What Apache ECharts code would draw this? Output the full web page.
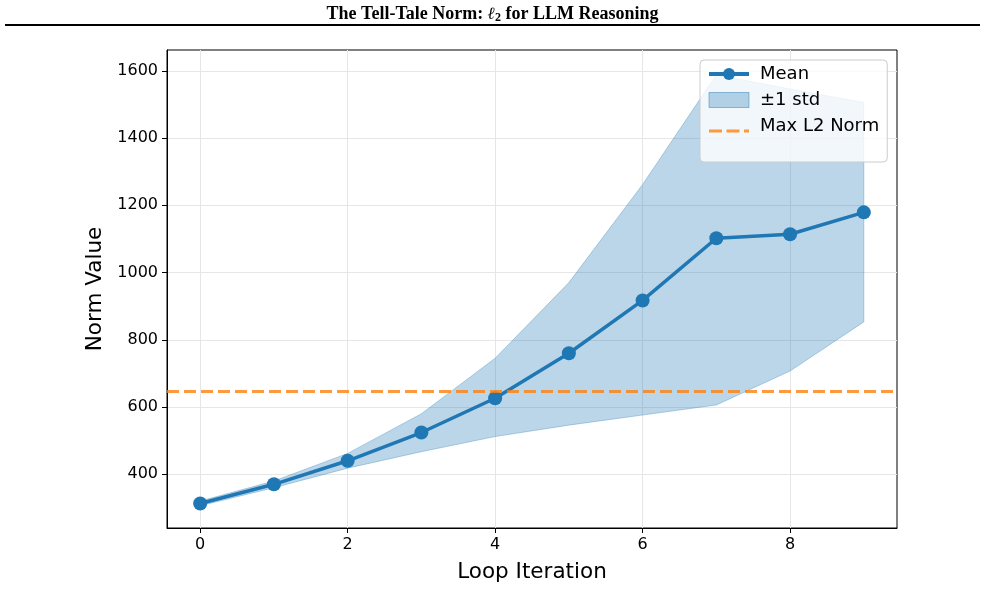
<!DOCTYPE html>
<html>
<head>
  <meta charset="utf-8">
  <title>The Tell-Tale Norm</title>
  <script src="https://cdn.jsdelivr.net/npm/echarts@6/dist/echarts.min.js"></script>
  <style>
    html, body { margin: 0; padding: 0; background: #fff; }
    #chart { width: 985px; height: 591px; }
  </style>
</head>
<body>
  <div id="chart"></div>
  <script>
    // data
    const iterations = [0, 1, 2, 3, 4, 5, 6, 7, 8, 9];
    const meanValues = [313, 370, 440, 524, 626, 760, 917, 1102, 1114, 1179];
    const upperValues = [320, 380, 462, 580, 745, 970, 1262, 1588, 1546, 1506];
    const lowerValues = [306, 360, 418, 467, 512, 546, 576, 606, 707, 853];
    const maxL2Norm = 646;
    const xTicks = [0, 2, 4, 6, 8];
    const yTicks = [400, 600, 800, 1000, 1200, 1400, 1600];
    const xRange = [-0.45, 9.45];
    const yRange = [240, 1662];

    const blue = '#1f77b4';
    const orange = 'rgba(255,127,14,0.8)';
    const gridColor = '#e6e6e6';
    const font = 'DejaVu Sans';
    // 图例里的虚线图标 (40x14, 虚线靠下)
    const dashIcon = 'path://M0,0h0.01v0.01h-0.01z M0,10.5h13v3h-13z M17.5,10.5h13v3h-13z M35,10.5h5v3h-5z M39.99,13.99h0.01v0.01h-0.01z';

    let myChart = echarts.init(document.getElementById('chart'));

    let option = {
      animation: false,
      backgroundColor: '#fff',
      title: {
        text: '{a|The Tell-Tale Norm: }{l|ℓ}{s|2}{a| for LLM Reasoning}',
        left: 'center',
        top: 0,
        textStyle: {
          rich: {
            a: { fontFamily: 'Liberation Serif', fontWeight: 'bold', fontSize: 18, color: '#000' },
            l: { fontFamily: 'DejaVu Serif', fontStyle: 'italic', fontSize: 17, color: '#000' },
            s: { fontFamily: 'Liberation Serif', fontSize: 12, color: '#000', verticalAlign: 'bottom', padding: [7, 0, 0, 0] }
          }
        }
      },
      graphic: [{
        type: 'line',
        shape: { x1: 5, y1: 25, x2: 980, y2: 25 },
        style: { stroke: '#000', lineWidth: 2 }
      }],
      legend: {
        orient: 'vertical',
        left: 700,
        top: 60,
        padding: [5, 8, 27, 7],
        itemWidth: 40,
        itemHeight: 15,
        itemGap: 8,
        backgroundColor: 'rgba(255,255,255,0.8)',
        borderColor: '#cccccc',
        borderWidth: 1,
        borderRadius: 4,
        textStyle: { fontFamily: font, fontSize: 18, color: '#000', padding: [0, 0, 0, 6] },
        data: [
          { name: 'Mean', lineStyle: { width: 4 } },
          { name: '±1 std', icon: 'rect', itemStyle: { color: 'rgba(31,119,180,0.3)', borderColor: 'rgba(31,119,180,0.45)', borderWidth: 1 } },
          { name: 'Max L2 Norm', icon: dashIcon, itemStyle: { color: orange } }
        ]
      },
      grid: {
        left: 167,
        right: 88,
        top: 50,
        bottom: 63,
        show: true,
        borderColor: '#000',
        borderWidth: 1
      },
      xAxis: {
        type: 'value',
        min: xRange[0],
        max: xRange[1],
        name: 'Loop Iteration',
        nameLocation: 'middle',
        nameGap: 33,
        nameTextStyle: { fontFamily: font, fontSize: 21.5, color: '#000' },
        axisLine: { show: true, onZero: false, lineStyle: { color: '#000' } },
        axisTick: { show: true, length: 5, customValues: xTicks, lineStyle: { color: '#000' } },
        axisLabel: { customValues: xTicks, margin: 9, fontFamily: font, fontSize: 16, color: '#000' },
        splitLine: { show: true, lineStyle: { color: gridColor } }
      },
      yAxis: {
        type: 'value',
        min: yRange[0],
        max: yRange[1],
        name: 'Norm Value',
        nameLocation: 'middle',
        nameGap: 50,
        nameTextStyle: { fontFamily: font, fontSize: 21.5, color: '#000' },
        axisLine: { show: true, onZero: false, lineStyle: { color: '#000' } },
        axisTick: { show: true, length: 5, customValues: yTicks, lineStyle: { color: '#000' } },
        axisLabel: {
          customValues: yTicks, margin: 9, fontFamily: font, fontSize: 16, color: '#000',
          formatter: function (v) { return String(v); }
        },
        splitLine: { show: true, lineStyle: { color: gridColor } }
      },
      series: [
        {
          name: '±1 std',
          type: 'custom',
          z: 1,
          itemStyle: { color: 'rgba(31,119,180,0.3)' },
          data: iterations.map((x, i) => [x, lowerValues[i], upperValues[i]]),
          encode: { x: 0, y: [1, 2] },
          renderItem: function (params, api) {
            if (params.dataIndex !== 0) return;
            // 上沿 + 反向的下沿, 组成填充多边形
            let pts = [];
            for (let i = 0; i < iterations.length; i++) {
              pts.push(api.coord([iterations[i], upperValues[i]]));
            }
            for (let i = iterations.length - 1; i >= 0; i--) {
              pts.push(api.coord([iterations[i], lowerValues[i]]));
            }
            return {
              type: 'polygon',
              shape: { points: pts },
              style: { fill: 'rgba(31,119,180,0.3)', stroke: 'rgba(31,119,180,0.3)', lineWidth: 1 }
            };
          }
        },
        {
          name: 'Mean',
          type: 'line',
          z: 3,
          data: iterations.map((x, i) => [x, meanValues[i]]),
          symbol: 'circle',
          symbolSize: 14,
          itemStyle: { color: blue },
          lineStyle: { color: blue, width: 3.5 }
        },
        {
          name: 'Max L2 Norm',
          type: 'line',
          z: 4,
          data: [[xRange[0], maxL2Norm], [xRange[1], maxL2Norm]],
          symbol: 'none',
          itemStyle: { color: orange },
          lineStyle: { color: orange, width: 3, type: [12, 5] }
        }
      ]
    };
    myChart.setOption(option);
  </script>
</body>
</html>
